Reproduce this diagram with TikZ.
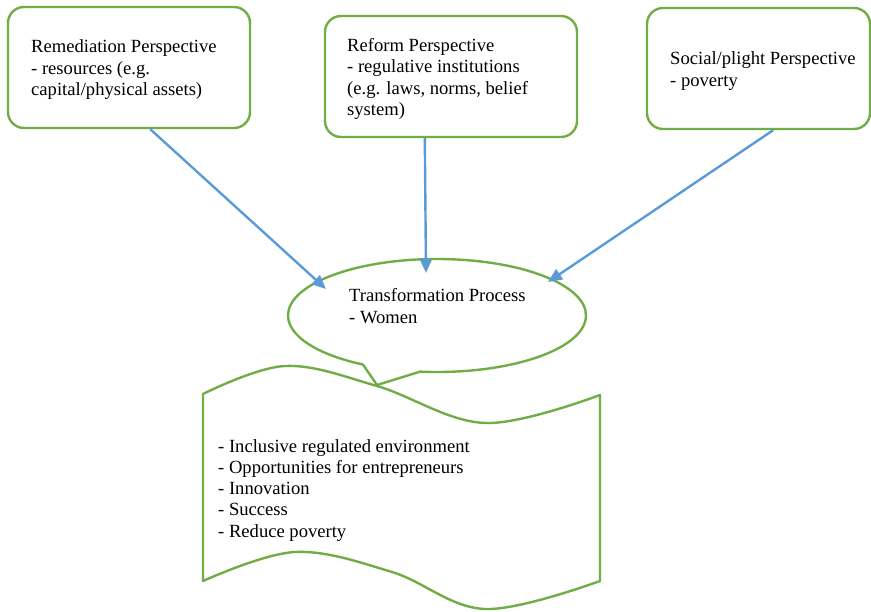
\documentclass[tikz,border=0pt]{standalone}
\usepackage{fontspec}
\setmainfont{Liberation Serif}
\usetikzlibrary{arrows.meta,calc,shapes.geometric}
\definecolor{framegreen}{HTML}{70AD47}
\definecolor{arrowblue}{HTML}{5B9BD5}
\begin{document}
\begin{tikzpicture}[x=1pt,y=-1pt,
  pbox/.style={draw=framegreen, line width=2.4pt, rounded corners=16pt,
    rectangle, minimum height=121pt, inner sep=0pt},
  % multi-line text is placed by the baseline of its last line
  body/.style={font=\fontsize{18.6pt}{21.3pt}\selectfont, align=left,
    anchor=base west, inner sep=0pt},
  link/.style={draw=arrowblue, line width=2.4pt,
    -{Triangle[length=14pt,width=12pt]}},
  outline/.style={draw=framegreen, line width=2.4pt, line join=round}]
\useasboundingbox (0,0) rectangle (871,612);

% three perspective boxes
\node[pbox, minimum width=242pt] (remed) at (129,67.5) {};
\node[pbox, minimum width=252pt] (reform) at (451,76.5) {};
\node[pbox, minimum width=223pt] (social) at (758.5,68.5) {};

\node[body] (remedtxt) at (31,95.6)
  {Remediation Perspective\\- resources (e.g.\\capital/physical assets)};
\node[body] (reformtxt) at (347,115.5)
  {Reform Perspective\\- regulative institutions\\(e.g. laws, norms, belief\\system)};
\node[body] (socialtxt) at (670,86.3)
  {Social/plight Perspective\\- poverty};

% speech-bubble ellipse of the transformation process
\node[ellipse, minimum width=298pt, minimum height=113pt, inner sep=0pt]
  (trans) at (437,315.5) {};
\coordinate (tail) at (377,385);
\draw[outline] (trans.center) ++(96.5:149 and 56.5)
  arc[start angle=96.5, end angle=-240.2, x radius=149, y radius=56.5]
  -- (tail) -- cycle;
\node[body] (transtxt) at (349,323.3) {Transformation Process\\- Women};

% wavy sheet with the outcomes
\draw[outline] plot[smooth, tension=0.6] coordinates
    {(203,394) (285,366) (377,386) (485,423) (600,395)}
  -- (600,581)
  -- plot[smooth, tension=0.6] coordinates
    {(600,581) (485,609) (392,572) (295,552) (203,581)}
  -- cycle;
\node[body] (outcomes) at (218,537.2)
  {- Inclusive regulated environment\\- Opportunities for entrepreneurs\\- Innovation\\- Success\\- Reduce poverty};

% arrows into the transformation process
\coordinate (in1) at (326,289);
\coordinate (in2) at (426,273);
\coordinate (in3) at (548,282);
\draw[link] ($(remed.south west)!0.587!(remed.south east)$) -- (in1);
\draw[link] ($(reform.south west)!0.397!(reform.south east)$) -- (in2);
\draw[link] ($(social.south west)!0.565!(social.south east)$) -- (in3);
\end{tikzpicture}
\end{document}
